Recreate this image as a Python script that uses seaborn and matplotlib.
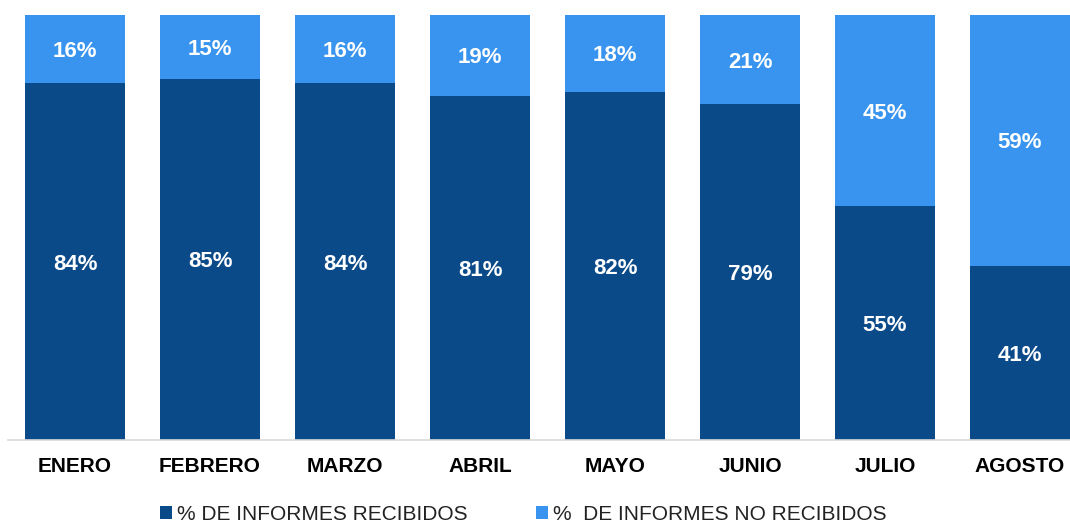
import numpy as np
import pandas as pd
import seaborn as sns
import matplotlib.pyplot as plt
from matplotlib.patches import Patch

# >>>>> data
meses = ["ENERO", "FEBRERO", "MARZO", "ABRIL", "MAYO", "JUNIO", "JULIO", "AGOSTO"]
recibidos = [84, 85, 84, 81, 82, 79, 55, 41]
no_recibidos = [16, 15, 16, 19, 18, 21, 45, 59]
series_labels = ["% DE INFORMES RECIBIDOS", "%  DE INFORMES NO RECIBIDOS"]
# <<<<< data

dark = "#0b4a89"
light = "#3894ee"

sns.set_style("white")
plt.rcParams['font.family'] = ['Liberation Sans', 'DejaVu Sans']

df = pd.DataFrame({"mes": meses, "rec": recibidos, "no": no_recibidos})
df["total"] = df["rec"] + df["no"]

fig = plt.figure(figsize=(10.7, 5.23), dpi=100)
ax = fig.add_axes([7.5 / 1070, 1 - 440 / 523, 1 - 7.5 / 1070, (440 - 15) / 523])

sns.barplot(data=df, x="mes", y="total", color=light, width=0.74, linewidth=0, saturation=1, ax=ax)
sns.barplot(data=df, x="mes", y="rec", color=dark, width=0.74, linewidth=0, saturation=1, ax=ax)

ax.set_xlim(-0.5, 7.37)
ax.set_ylim(0, 100)
ax.set(xlabel=None, ylabel=None)
ax.set_yticks([])
for s in ["top", "right", "left"]:
    ax.spines[s].set_visible(False)
ax.spines["bottom"].set_color("#d9d9d9")
ax.spines["bottom"].set_linewidth(1.2)
ax.tick_params(axis="x", length=0, pad=12)
for t in ax.get_xticklabels():
    t.set_fontsize(15)
    t.set_fontweight("bold")
    t.set_color("black")

for i, (r, n) in enumerate(zip(recibidos, no_recibidos)):
    ax.text(i, r / 2, "{}%".format(r), ha="center", va="center_baseline", color="white",
            fontsize=16, fontweight="bold")
    ax.text(i, r + n / 2, "{}%".format(n), ha="center", va="center_baseline", color="white",
            fontsize=16, fontweight="bold")

handles = [Patch(facecolor=dark, edgecolor="none"), Patch(facecolor=light, edgecolor="none")]
fig.legend(handles, series_labels, loc="center", bbox_to_anchor=(0.489, 0.017), ncol=2,
           frameon=False, fontsize=15, handlelength=0.55, handleheight=0.55,
           handletextpad=0.25, columnspacing=3.3, labelcolor="#222222")

fig.savefig("out.png", dpi=100)
